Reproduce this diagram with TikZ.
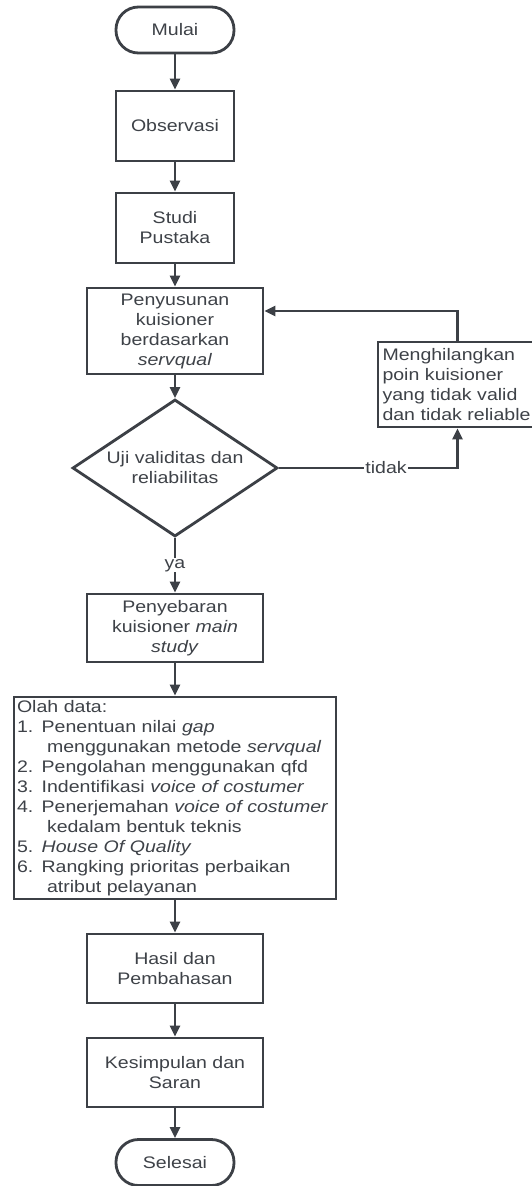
\documentclass[tikz,border=0pt]{standalone}
\usepackage{fontspec}
\setmainfont{Liberation Sans}[FakeStretch=1.17]
\usetikzlibrary{shapes.geometric,arrows.meta,calc}

\definecolor{ink}{RGB}{60,64,70}
\definecolor{txt}{RGB}{62,66,72}

\tikzset{
  base/.style={draw=ink, line width=2.8pt, fill=white, text=txt,
    font=\fontsize{16.7pt}{20pt}\selectfont, inner sep=2pt},
  terminal/.style={base, rectangle, rounded corners=22.5pt,
    minimum width=118pt, minimum height=46pt},
  process/.style={base, rectangle, align=center,
    minimum width=176pt, minimum height=69pt},
  decision/.style={base, diamond, aspect=1.5, align=center,
    minimum width=205pt, minimum height=137pt, inner sep=1pt},
  flow/.style={draw=ink, line width=2.8pt,
    -{Triangle[length=11pt,width=10pt]}},
  lbl/.style={fill=white, text=txt, inner sep=1pt,
    font=\fontsize{16.7pt}{20pt}\selectfont}
}

\begin{document}
\begin{tikzpicture}[x=1pt,y=1pt]
  \useasboundingbox (0,0) rectangle (532,-1186);
  \fill[white] (0,0) rectangle (532,-1186);

  % main column
  \node[terminal] (mulai) at (175,-30) {Mulai};
  \node[process, minimum width=118pt, minimum height=70pt] (obs) at (175,-126) {Observasi};
  \node[process, minimum width=118pt, minimum height=70pt] (studi) at (175,-228) {Studi\\Pustaka};
  \node[process, minimum height=86pt] (susun) at (175,-331)
    {Penyusunan\\kuisioner\\berdasarkan\\\textit{servqual}};
  \node[decision] (uji) at (175,-468) {Uji validitas dan\\reliabilitas};
  \node[process, minimum height=68pt] (sebar) at (175,-628)
    {Penyebaran\\kuisioner \textit{main}\\\textit{study}};
  \node[base, rectangle, align=left, minimum width=322pt, minimum height=202pt,
        inner xsep=2pt, text width=316pt] (olah) at (175,-798)
    {Olah data:\\
     1. Penentuan nilai \textit{gap}\\
     \hspace*{30pt}menggunakan metode \textit{servqual}\\
     2. Pengolahan menggunakan qfd\\
     3. Indentifikasi \textit{voice of costumer}\\
     4. Penerjemahan \textit{voice of costumer}\\
     \hspace*{30pt}kedalam bentuk teknis\\
     5. \textit{House Of Quality}\\
     6. Rangking prioritas perbaikan\\
     \hspace*{30pt}atribut pelayanan};
  \node[process] (hasil) at (175,-968.5) {Hasil dan\\Pembahasan};
  \node[process] (kesim) at (175,-1072.5) {Kesimpulan dan\\Saran};
  \node[terminal] (selesai) at (175,-1162.5) {Selesai};

  % side step for rejected items
  \node[base, rectangle, align=left, minimum width=159pt, minimum height=85pt,
        inner xsep=4pt, text width=150pt] (hapus) at (457.5,-384.5)
    {Menghilangkan\\poin kuisioner\\yang tidak valid\\dan tidak reliable};

  % connectors
  \draw[flow] (mulai) -- (obs);
  \draw[flow] (obs) -- (studi);
  \draw[flow] (studi) -- (susun);
  \draw[flow] (susun) -- (uji);
  \draw[flow] (uji) -- node[lbl] {ya} (sebar);
  \draw[flow] (sebar) -- (olah);
  \draw[flow] (olah) -- (hasil);
  \draw[flow] (hasil) -- (kesim);
  \draw[flow] (kesim) -- (selesai);
  \draw[flow] (uji.east) -| node[lbl, pos=0.3] {tidak} (hapus.south);
  \draw[flow] (hapus.north) |- ([yshift=20pt]susun.east);
\end{tikzpicture}
\end{document}
